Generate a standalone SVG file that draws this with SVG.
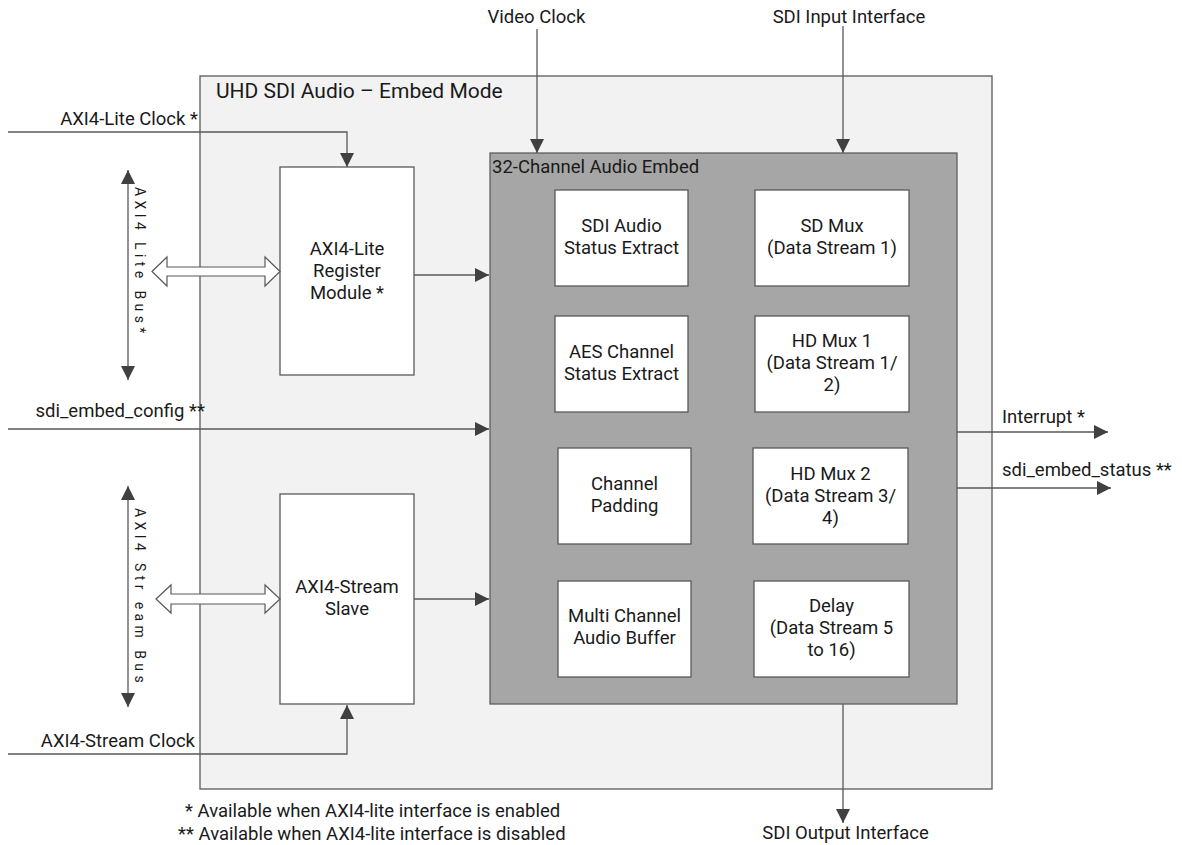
<svg xmlns="http://www.w3.org/2000/svg" width="1182" height="845" viewBox="0 0 1182 845">
  <style>
    text { font-family: Roboto, "Liberation Sans", sans-serif; font-size: 18.5px; fill: #1a1a1a; }
    .mid { text-anchor: middle; }
    .end { text-anchor: end; }
    .title { font-size: 21px; }
    .vbus { font-size: 14px; letter-spacing: 4.4px; }
    .wire { fill: none; stroke: #595959; stroke-width: 1.3; }
    .blk { fill: #ffffff; stroke: #595959; stroke-width: 1.3; }
    .bus { fill: #ffffff; stroke: #595959; stroke-width: 1.2; }
  </style>
  <defs>
    <marker id="arr" markerUnits="userSpaceOnUse" markerWidth="15" markerHeight="14" refX="14" refY="7" orient="auto">
      <path d="M0,0 L14,7 L0,14 z" fill="#404040"/>
    </marker>
    <marker id="arrStart" markerUnits="userSpaceOnUse" markerWidth="15" markerHeight="14" refX="14" refY="7" orient="auto-start-reverse">
      <path d="M0,0 L14,7 L0,14 z" fill="#404040"/>
    </marker>
  </defs>

  <!-- top-level wrapper -->
  <g id="embed-mode">
    <rect x="200" y="76" width="792" height="713" fill="#f2f2f2" stroke="#595959" stroke-width="1.3"/>
    <text class="title" x="216" y="98">UHD SDI Audio – Embed Mode</text>
  </g>

  <!-- audio embed core with its sub-blocks -->
  <g id="audio-embed">
    <rect x="490" y="153" width="467" height="551" fill="#a6a6a6" stroke="#5f5f5f" stroke-width="1.3"/>
    <text x="492" y="173">32-Channel Audio Embed</text>
  </g>
  <g id="sdi-audio-status">
    <rect class="blk" x="555" y="190" width="133" height="96"/>
    <text class="mid" x="621.5" y="232">SDI Audio</text>
    <text class="mid" x="621.5" y="254">Status Extract</text>
  </g>
  <g id="sd-mux">
    <rect class="blk" x="755" y="190" width="154" height="96"/>
    <text class="mid" x="832" y="232">SD Mux</text>
    <text class="mid" x="832" y="254">(Data Stream 1)</text>
  </g>
  <g id="aes-status">
    <rect class="blk" x="555" y="316" width="133" height="96"/>
    <text class="mid" x="621.5" y="358">AES Channel</text>
    <text class="mid" x="621.5" y="380">Status Extract</text>
  </g>
  <g id="hd-mux-1">
    <rect class="blk" x="755" y="316" width="154" height="96"/>
    <text class="mid" x="832" y="347">HD Mux 1</text>
    <text class="mid" x="832" y="369">(Data Stream 1/</text>
    <text class="mid" x="832" y="391">2)</text>
  </g>
  <g id="channel-padding">
    <rect class="blk" x="558" y="448" width="133" height="96"/>
    <text class="mid" x="624.5" y="490">Channel</text>
    <text class="mid" x="624.5" y="512">Padding</text>
  </g>
  <g id="hd-mux-2">
    <rect class="blk" x="753" y="448" width="155" height="96"/>
    <text class="mid" x="830.5" y="480">HD Mux 2</text>
    <text class="mid" x="830.5" y="502">(Data Stream 3/</text>
    <text class="mid" x="830.5" y="524">4)</text>
  </g>
  <g id="audio-buffer">
    <rect class="blk" x="558" y="581" width="133" height="96"/>
    <text class="mid" x="624.5" y="622">Multi Channel</text>
    <text class="mid" x="624.5" y="644">Audio Buffer</text>
  </g>
  <g id="delay">
    <rect class="blk" x="754" y="581" width="155" height="96"/>
    <text class="mid" x="831.5" y="612">Delay</text>
    <text class="mid" x="831.5" y="634">(Data Stream 5</text>
    <text class="mid" x="831.5" y="656">to 16)</text>
  </g>

  <!-- register module -->
  <g id="axi-lite-regs">
    <rect class="blk" x="280" y="167" width="134" height="208"/>
    <text class="mid" x="347" y="255">AXI4-Lite</text>
    <text class="mid" x="347" y="277">Register</text>
    <text class="mid" x="347" y="299">Module *</text>
  </g>

  <!-- stream slave -->
  <g id="axi-stream-slave">
    <rect class="blk" x="280" y="494" width="134" height="210"/>
    <text class="mid" x="347" y="593">AXI4-Stream</text>
    <text class="mid" x="347" y="615">Slave</text>
  </g>

  <!-- connectors -->
  <g id="connectors">
    <!-- clocks -->
    <path class="wire" d="M8,132 H347 V167" marker-end="url(#arr)"/>
    <path class="wire" d="M8,754 H347 V705" marker-end="url(#arr)"/>
    <path class="wire" d="M537,29 V153" marker-end="url(#arr)"/>
    <path class="wire" d="M843,26 V153" marker-end="url(#arr)"/>
    <!-- into the embed core -->
    <path class="wire" d="M414,275 H489" marker-end="url(#arr)"/>
    <path class="wire" d="M8,429 H489" marker-end="url(#arr)"/>
    <path class="wire" d="M414,599 H489" marker-end="url(#arr)"/>
    <!-- outputs -->
    <path class="wire" d="M957,432 H1108" marker-end="url(#arr)"/>
    <path class="wire" d="M957,488 H1111" marker-end="url(#arr)"/>
    <path class="wire" d="M843,704 V823" marker-end="url(#arr)"/>
    <!-- bus direction arrows -->
    <path class="wire" d="M128,170 V380" marker-start="url(#arrStart)" marker-end="url(#arr)"/>
    <path class="wire" d="M128,486 V707" marker-start="url(#arrStart)" marker-end="url(#arr)"/>
    <!-- hollow bidirectional bus arrows -->
    <path class="bus" d="M152,271.5 L167,257 V267 H265 V257 L280,271.5 L265,286 V276 H167 V286 z"/>
    <path class="bus" d="M156,599 L171,585 V594 H265 V585 L280,599 L265,613 V604 H171 V613 z"/>
  </g>

  <!-- signal labels -->
  <g id="labels">
    <text class="end" x="198" y="125">AXI4-Lite Clock *</text>
    <text class="end" x="205" y="417">sdi_embed_config **</text>
    <text class="end" x="195" y="747">AXI4-Stream Clock</text>
    <text class="mid" x="536.5" y="23">Video Clock</text>
    <text class="mid" x="849" y="23">SDI Input Interface</text>
    <text x="1002" y="423">Interrupt *</text>
    <text x="1002" y="476">sdi_embed_status **</text>
    <text class="mid" x="845.5" y="839">SDI Output Interface</text>
    <text class="vbus" transform="translate(135,187) rotate(90)">AXI4 Lite Bus*</text>
    <text class="vbus" transform="translate(135,508) rotate(90)">AXI4 Str eam Bus</text>
    <text x="185" y="817">* Available when AXI4-lite interface is enabled</text>
    <text x="178" y="840">** Available when AXI4-lite interface is disabled</text>
  </g>
</svg>
